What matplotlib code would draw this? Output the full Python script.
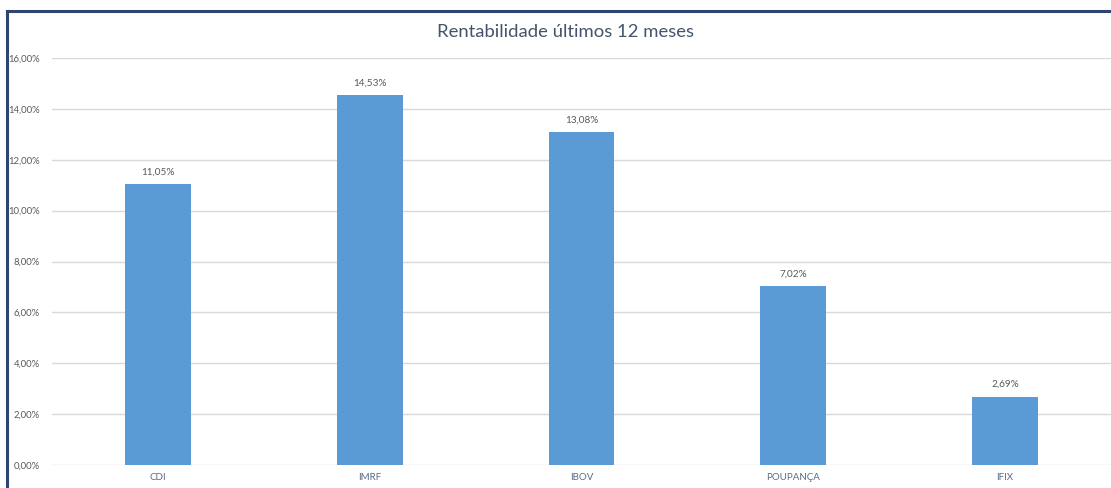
import matplotlib
matplotlib.use("Agg")
import matplotlib.pyplot as plt
from matplotlib.lines import Line2D
from matplotlib.ticker import FuncFormatter

categorias = ["CDI", "IMRF", "IBOV", "POUPANÇA", "IFIX"]
rentabilidade = [11.05, 14.53, 13.08, 7.02, 2.69]
yticks = [0, 2, 4, 6, 8, 10, 12, 14, 16]

plt.rcParams['font.family'] = ['Lato', 'DejaVu Sans']

fig = plt.figure(figsize=(11.11, 4.88), dpi=100)
ax = fig.add_axes([0.0468, 0.0471, 0.9532, 0.834])

x = range(len(categorias))
ax.bar(x, rentabilidade, width=0.31, color='#5B9BD5', zorder=3)

for xi, v in zip(x, rentabilidade):
    ax.text(xi, v + 0.3, f"{v:.2f}%".replace('.', ','), ha='center', va='bottom',
            fontsize=7.2, color='#595959')

ax.set_xlim(-0.5, len(categorias) - 0.5)
ax.set_ylim(0, 16)
ax.set_yticks(yticks)
ax.yaxis.set_major_formatter(FuncFormatter(lambda v, p: f"{v:.2f}%".replace('.', ',')))
ax.set_xticks(list(x))
ax.set_xticklabels(categorias)
ax.tick_params(axis='y', length=0, pad=9, labelsize=6.8, labelcolor='#595959')
ax.tick_params(axis='x', length=0, pad=6, labelsize=7, labelcolor='#5A6A85')
ax.grid(axis='y', color='#D9D9D9', linewidth=1, zorder=0)
for s in ax.spines.values():
    s.set_visible(False)

fig.text(0.509, 0.934, "Rentabilidade últimos 12 meses", ha='center', va='center',
         fontsize=13.3, color='#44546A')

# moldura: apenas topo e lado esquerdo visiveis
bx, by = 7 / 1111, 1 - 11 / 488
fig.add_artist(Line2D([bx, 1.0], [by, by], transform=fig.transFigure,
                      color='#2F4470', linewidth=2.2, solid_capstyle='projecting'))
fig.add_artist(Line2D([bx, bx], [0.0, by], transform=fig.transFigure,
                      color='#2F4470', linewidth=2.2, solid_capstyle='projecting'))

fig.savefig("out.png", dpi=100)
